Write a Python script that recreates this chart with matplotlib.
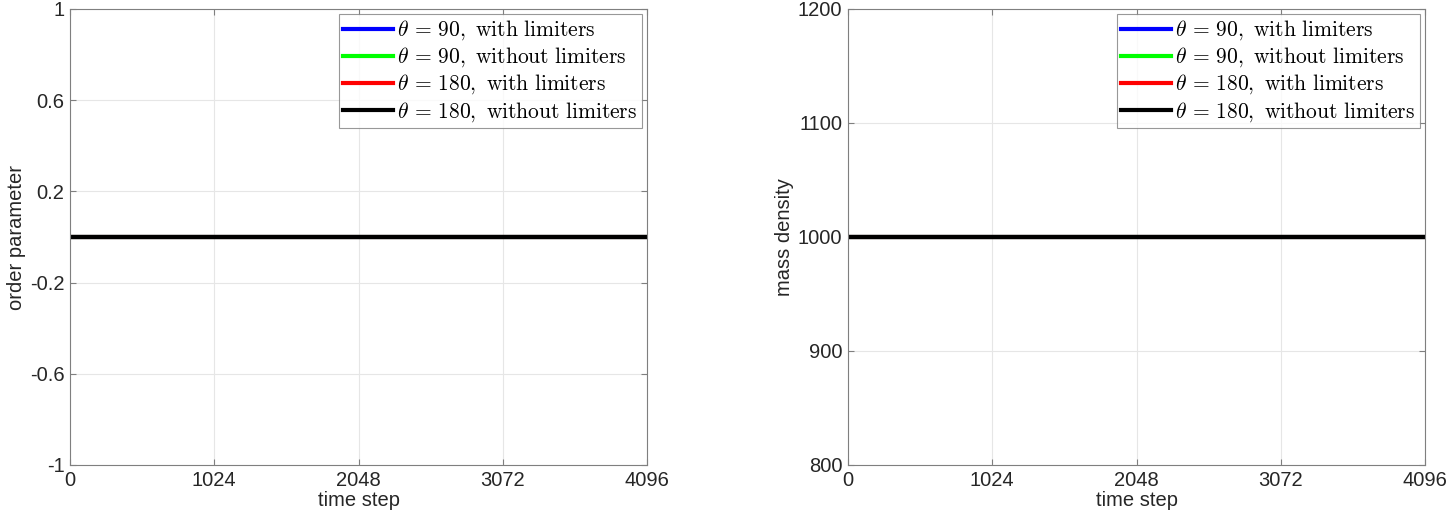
import matplotlib.pyplot as plt
import numpy as np

plt.rcParams['font.family'] = ['Liberation Sans', 'DejaVu Sans']
plt.rcParams['mathtext.fontset'] = 'cm'

# time steps sampled, values are flat in the picture
steps = [0, 1024, 2048, 3072, 4096]
order_90_lim = [0.0, 0.0, 0.0, 0.0, 0.0]
order_90_nolim = [0.0, 0.0, 0.0, 0.0, 0.0]
order_180_lim = [0.0, 0.0, 0.0, 0.0, 0.0]
order_180_nolim = [0.0, 0.0, 0.0, 0.0, 0.0]
rho_90_lim = [1000, 1000, 1000, 1000, 1000]
rho_90_nolim = [1000, 1000, 1000, 1000, 1000]
rho_180_lim = [1000, 1000, 1000, 1000, 1000]
rho_180_nolim = [1000, 1000, 1000, 1000, 1000]

labels = [r'$\theta\, =\, 90\mathrm{,\ with\ limiters}$',
          r'$\theta\, =\, 90\mathrm{,\ without\ limiters}$',
          r'$\theta\, =\, 180\mathrm{,\ with\ limiters}$',
          r'$\theta\, =\, 180\mathrm{,\ without\ limiters}$']
colors = ['#0000ff', '#00ff00', '#ff0000', '#000000']
xticks = [0, 1024, 2048, 3072, 4096]
yticks_left = [-1, -0.6, -0.2, 0.2, 0.6, 1]
yticks_right = [800, 900, 1000, 1100, 1200]

fig = plt.figure(figsize=(14.5, 5.26), dpi=100)
ax1 = fig.add_axes([70/1450, 1-465/526, 577/1450, 456/526])
ax2 = fig.add_axes([848/1450, 1-465/526, 577/1450, 456/526])

def style(ax, ylim, yticks, ylabel):
    ax.set_xlim(0, 4096)
    ax.set_ylim(*ylim)
    ax.set_xticks(xticks)
    ax.set_yticks(yticks)
    ax.set_yticklabels([('%g' % v) for v in yticks])
    ax.grid(True, color='#e6e6e6', linewidth=0.8)
    ax.set_axisbelow(True)
    for s in ax.spines.values():
        s.set_color('#7f7f7f')
        s.set_linewidth(0.8)
    ax.tick_params(direction='in', length=4, color='#7f7f7f', labelsize=14.5,
                   labelcolor='#262626', top=True, right=True, pad=4)
    ax.set_xlabel('time step', fontsize=14.5, color='#262626', labelpad=1)
    ax.set_ylabel(ylabel, fontsize=14.5, color='#262626', labelpad=3)

series1 = [order_90_lim, order_90_nolim, order_180_lim, order_180_nolim]
series2 = [rho_90_lim, rho_90_nolim, rho_180_lim, rho_180_nolim]
for ax, ser in [(ax1, series1), (ax2, series2)]:
    for vals, c, lab in zip(ser, colors, labels):
        ax.plot(steps, vals, color=c, linewidth=3, label=lab)
    leg = ax.legend(loc='upper right', fontsize=15.5, frameon=True, fancybox=False,
                    handlelength=2.3, handletextpad=0.2, borderpad=0.2,
                    labelspacing=0.15, borderaxespad=0.25)
    leg.get_frame().set_edgecolor('#7f7f7f')
    leg.get_frame().set_linewidth(0.8)

style(ax1, (-1, 1), yticks_left, 'order parameter')
style(ax2, (800, 1200), yticks_right, 'mass density')

fig.savefig('out.png', dpi=100)
